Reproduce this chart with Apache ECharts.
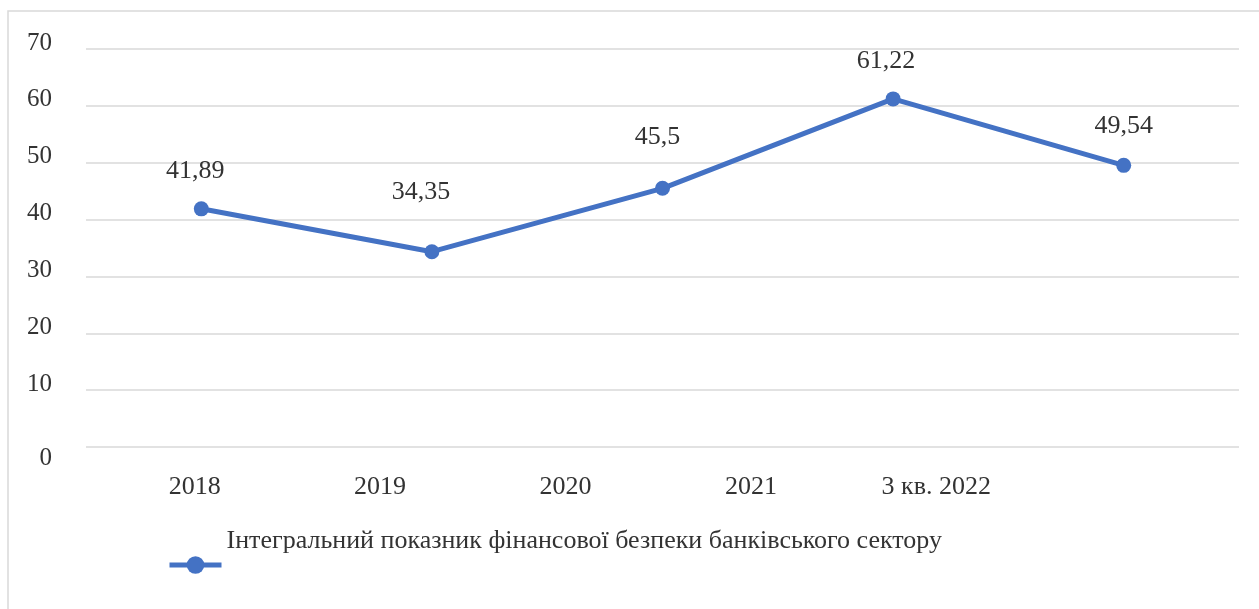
<!DOCTYPE html>
<html>
<head>
<meta charset="utf-8">
<script src="https://cdn.jsdelivr.net/npm/echarts@6/dist/echarts.min.js"></script>
<style>
  html, body { margin: 0; padding: 0; background: #fff; }
  #chart { width: 1259px; height: 609px; }
</style>
</head>
<body>
<div id="chart"></div>
<script>
(function(){
    'use strict';

    var categories = ['2018', '2019', '2020', '2021', '3 кв. 2022'];
    var values = [41.89, 34.35, 45.5, 61.22, 49.54];
    var seriesName = 'Інтегральний показник фінансової безпеки банківського сектору';
    var yTicks = { min: 0, max: 70, step: 10 };

    var FONT = '"Liberation Serif", "Times New Roman", serif';
    var TEXT = '#333333';
    var BLUE = '#4472C4';
    var GRID_LINE = '#d9d9d9';

    // label nudges (the source chart places each value label by hand)
    var labelShift = [[-6, 0], [-11, 22], [-5, 14], [-7, 0], [0, 2]];

    var myChart = echarts.init(document.getElementById('chart'));

    var option = {
        backgroundColor: '#ffffff',
        animation: false,
        textStyle: { fontFamily: FONT },
        graphic: [{
            type: 'rect',
            shape: { x: 8, y: 11, width: 1400, height: 800 },
            style: { fill: 'none', stroke: GRID_LINE, lineWidth: 1.5 },
            silent: true
        }],
        grid: [
            { left: 86, right: 20, top: 49, bottom: 162 },
            { left: 102, right: 230, top: 49, bottom: 162 }
        ],
        legend: {
            left: 167,
            top: 518,
            padding: 0,
            itemWidth: 52,
            itemHeight: 22,
            data: [seriesName],
            lineStyle: { color: BLUE, width: 5 },
            itemStyle: { color: BLUE },
            formatter: function(name){
                return name + '\n ';
            },
            textStyle: {
                fontFamily: FONT,
                fontSize: 26,
                lineHeight: 47,
                color: TEXT
            }
        },
        xAxis: [{
            type: 'category',
            gridIndex: 0,
            data: categories,
            boundaryGap: true,
            axisLine: { show: false },
            axisTick: { show: false },
            axisLabel: { show: false }
        }, {
            type: 'category',
            gridIndex: 1,
            data: categories,
            boundaryGap: true,
            axisLine: { show: false },
            axisTick: { show: false },
            axisLabel: {
                margin: 27,
                fontFamily: FONT,
                fontSize: 26,
                color: TEXT
            }
        }],
        yAxis: [{
            type: 'value',
            gridIndex: 0,
            min: yTicks.min,
            max: yTicks.max,
            interval: yTicks.step,
            axisLine: { show: false },
            axisTick: { show: false },
            splitLine: { lineStyle: { color: GRID_LINE, width: 1.5 } },
            axisLabel: {
                margin: 34,
                fontFamily: FONT,
                fontSize: 25,
                color: TEXT,
                formatter: function(v){
                    return v === 0 ? '{z|0}' : '{n|' + v + '}';
                },
                rich: {
                    n: { fontFamily: FONT, fontSize: 25, color: TEXT, padding: [0, 0, 12, 0] },
                    z: { fontFamily: FONT, fontSize: 25, color: TEXT, padding: [22, 0, 0, 0] }
                }
            }
        }, {
            type: 'value',
            gridIndex: 1,
            min: yTicks.min,
            max: yTicks.max,
            show: false
        }],
        series: [{
            name: seriesName,
            type: 'line',
            xAxisIndex: 0,
            yAxisIndex: 0,
            data: values.map(function(v, i){
                return {
                    value: v,
                    label: { offset: [labelShift[i][0], -labelShift[i][1]] }
                };
            }),
            symbol: 'circle',
            symbolSize: 15,
            lineStyle: { color: BLUE, width: 5 },
            itemStyle: { color: BLUE },
            label: {
                show: true,
                position: 'top',
                distance: 17,
                fontFamily: FONT,
                fontSize: 26,
                color: TEXT,
                formatter: function(p){
                    return String(p.value).replace('.', ',');
                }
            }
        }]
    };

    myChart.setOption(option);
})();
</script>
</body>
</html>
